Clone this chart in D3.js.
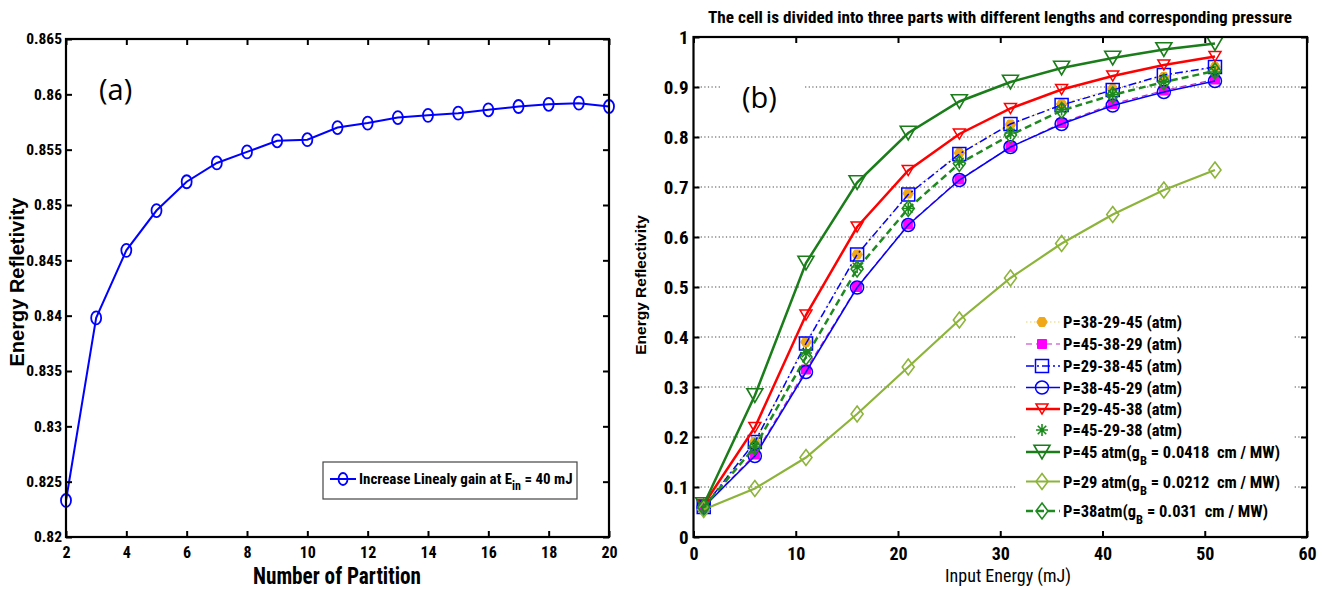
<!DOCTYPE html>
<html><head><meta charset="utf-8">
<script src="https://cdn.jsdelivr.net/npm/d3@7"></script>
<style>body{margin:0;background:#fff}svg{display:block}text{white-space:pre}</style>
</head><body><svg id="c" width="1322" height="590"></svg>
<script>
// ---------- Panel (a) data ----------
const partitions = [2,3,4,5,6,7,8,9,10,11,12,13,14,15,16,17,18,19,20];
const reflectA = [0.8233,0.8398,0.8459,0.8495,0.8521,0.8538,0.8548,0.8558,0.8559,0.8570,0.8574,0.8579,0.8581,0.8583,0.8586,0.8589,0.8591,0.8592,0.8589];
const xTicksA = [2,4,6,8,10,12,14,16,18,20];
const yTicksA = [0.82,0.825,0.83,0.835,0.84,0.845,0.85,0.855,0.86,0.865];
const yTickLabelsA = ["0.82","0.825","0.83","0.835","0.84","0.845","0.85","0.855","0.86","0.865"];

// ---------- Panel (b) data ----------
const inputEnergy = [1,6,11,16,21,26,31,36,41,46,51];
const p38_29_45 = [0.065,0.190,0.390,0.565,0.687,0.768,0.825,0.866,0.896,0.920,0.940];
const p45_38_29 = [0.060,0.165,0.335,0.500,0.625,0.715,0.780,0.828,0.866,0.893,0.915];
const p29_38_45 = [0.060,0.190,0.387,0.565,0.685,0.766,0.826,0.864,0.894,0.924,0.940];
const p38_45_29 = [0.060,0.162,0.330,0.499,0.624,0.714,0.780,0.826,0.863,0.890,0.912];
const p29_45_38 = [0.065,0.219,0.444,0.620,0.733,0.806,0.857,0.895,0.922,0.944,0.961];
const p45_29_38 = [0.060,0.180,0.368,0.540,0.657,0.750,0.808,0.855,0.885,0.910,0.930];
const p45 = [0.065,0.283,0.548,0.709,0.808,0.871,0.910,0.938,0.958,0.975,0.987];
const p29 = [0.055,0.097,0.159,0.246,0.340,0.434,0.518,0.587,0.645,0.694,0.734];
const p38 = [0.060,0.180,0.360,0.536,0.657,0.747,0.804,0.853,0.884,0.910,0.932];
const xTicksB = [0,10,20,30,40,50,60];
const yTicksB = [0,0.1,0.2,0.3,0.4,0.5,0.6,0.7,0.8,0.9,1];
const yTickLabelsB = ["0","0.1","0.2","0.3","0.4","0.5","0.6","0.7","0.8","0.9","1"];
const gridValsB = [0.1,0.2,0.3,0.4,0.5,0.6,0.7,0.8,0.9];

const NARROW = "'Liberation Sans Narrow','Arial Narrow','Roboto Condensed',sans-serif";
const SANS = "'Liberation Sans',Arial,sans-serif";
const svg = d3.select("#c");

// custom symbols
const symHex = {draw(ctx,size){const r=Math.sqrt(size*2/(3*Math.sqrt(3)));for(let i=0;i<6;i++){const a=Math.PI/3*i;const px=r*Math.cos(a),py=r*Math.sin(a);i?ctx.lineTo(px,py):ctx.moveTo(px,py);}ctx.closePath();}};
const symDiam = (w,h)=>({draw(ctx){ctx.moveTo(0,-h/2);ctx.lineTo(w/2,0);ctx.lineTo(0,h/2);ctx.lineTo(-w/2,0);ctx.closePath();}});
const symDown = (w)=>({draw(ctx){const h=w*0.85;ctx.moveTo(-w/2,-h/2);ctx.lineTo(w/2,-h/2);ctx.lineTo(0,h/2);ctx.closePath();}});
const symSq = (w)=>({draw(ctx){ctx.rect(-w/2,-w/2,w,w);}});
const symStar = (r)=>({draw(ctx){for(let i=0;i<4;i++){const a=Math.PI/4*i;ctx.moveTo(-r*Math.cos(a),-r*Math.sin(a));ctx.lineTo(r*Math.cos(a),r*Math.sin(a));}}});

function boxAxes(g, x, y, xt, yt, ytl, opt){
  const [x0,x1]=x.range(), [y0,y1]=y.range();
  const bottom = g.append("g").attr("transform",`translate(0,${y0})`)
    .call(d3.axisBottom(x).tickValues(xt).tickSizeInner(-6).tickSizeOuter(0).tickPadding(opt.xpad).tickFormat(d3.format("d")));
  const left = g.append("g").attr("transform",`translate(${x0},0)`)
    .call(d3.axisLeft(y).tickValues(yt).tickSizeInner(-6).tickSizeOuter(0).tickPadding(opt.ypad).tickFormat((d,i)=>ytl[i]));
  const top = g.append("g").attr("transform",`translate(0,${y1})`)
    .call(d3.axisTop(x).tickValues(xt).tickSizeInner(-6).tickSizeOuter(0).tickFormat(""));
  const right = g.append("g").attr("transform",`translate(${x1},0)`)
    .call(d3.axisRight(y).tickValues(yt).tickSizeInner(-6).tickSizeOuter(0).tickFormat(""));
  [bottom,left,top,right].forEach(a=>{a.select(".domain").remove();a.selectAll("line").attr("stroke","#000").attr("stroke-width",2);});
  bottom.selectAll("text").attr("font-family",NARROW).attr("font-weight","bold").attr("font-size",opt.xfs).attr("fill","#000");
  left.selectAll("text").attr("font-family",NARROW).attr("font-weight","bold").attr("font-size",opt.yfs).attr("fill","#000");
  g.append("rect").attr("x",x0).attr("y",y1).attr("width",x1-x0).attr("height",y0-y1)
    .attr("fill","none").attr("stroke","#000").attr("stroke-width",2.2);
}

// ================= Panel (a) =================
const xA = d3.scaleLinear().domain([2,20]).range([66,609]);
const yA = d3.scaleLinear().domain([0.82,0.865]).range([537,39]);
const gA = svg.append("g");

gA.append("path").datum(partitions.map((p,i)=>[p,reflectA[i]]))
  .attr("d",d3.line().x(d=>xA(d[0])).y(d=>yA(d[1])))
  .attr("fill","none").attr("stroke","#0000ff").attr("stroke-width",2);
gA.selectAll("ellipse.m").data(partitions.map((p,i)=>[p,reflectA[i]])).join("ellipse")
  .attr("cx",d=>xA(d[0])).attr("cy",d=>yA(d[1])).attr("rx",5).attr("ry",6.5)
  .attr("fill","none").attr("stroke","#0000ff").attr("stroke-width",1.8);

boxAxes(gA,xA,yA,xTicksA,yTicksA,yTickLabelsA,{xpad:10,ypad:4,xfs:16,yfs:15.5});

gA.append("text").attr("x",99).attr("y",100).attr("font-family","'Open Sans',Calibri,sans-serif")
  .attr("font-size",29).text("(a)");

// legend (a)
const lgA = gA.append("g");
lgA.append("rect").attr("x",323).attr("y",462).attr("width",254).attr("height",37)
  .attr("fill","#fff").attr("stroke","#444").attr("stroke-width",1.2);
lgA.append("line").attr("x1",330).attr("x2",356).attr("y1",479).attr("y2",479).attr("stroke","#0000ff").attr("stroke-width",2);
lgA.append("ellipse").attr("cx",343).attr("cy",479).attr("rx",4.5).attr("ry",6).attr("fill","none").attr("stroke","#0000ff").attr("stroke-width",1.8);
const tA = lgA.append("text").attr("x",359).attr("y",484).attr("font-family",NARROW).attr("font-size",15).attr("font-weight","bold");
tA.append("tspan").text("Increase Linealy gain at E");
tA.append("tspan").attr("dy",6).attr("font-size",12).text("in");
tA.append("tspan").attr("dy",-6).text(" = 40 mJ");

gA.append("text").attr("transform","translate(24,282) rotate(-90)").attr("text-anchor","middle")
  .attr("font-family",SANS).attr("font-weight","bold").attr("font-size",20).text("Energy Refletivity");
gA.append("text").attr("x",337).attr("y",584).attr("text-anchor","middle")
  .attr("font-family",NARROW).attr("font-weight","bold").attr("font-size",23)
  .attr("textLength",168).attr("lengthAdjust","spacingAndGlyphs").text("Number of Partition");

// ================= Panel (b) =================
const xB = d3.scaleLinear().domain([0,60]).range([693.5,1307]);
const yB = d3.scaleLinear().domain([0,1]).range([537,37]);
const gB = svg.append("g");

// grid
gB.selectAll("line.grid").data(gridValsB).join("line")
  .attr("x1",xB(0)).attr("x2",xB(60)).attr("y1",d=>yB(d)).attr("y2",d=>yB(d))
  .attr("stroke","#444").attr("stroke-width",1.1).attr("stroke-dasharray","1.2,2.4");

const series = [
  {name:"P=38-29-45 (atm)", v:p38_29_45, line:"#e8d470", lw:1.2, dash:"1.5,2.5", sym:symHex, size:70, fill:"#f0a818", stroke:"#f0a818", sw:1},
  {name:"P=45-38-29 (atm)", v:p45_38_29, line:"#c030c8", lw:1.2, dash:"6,4", sym:symSq(9), fill:"#ff00ff", stroke:"#ff00ff", sw:1},
  {name:"P=29-38-45 (atm)", v:p29_38_45, line:"#0000ff", lw:1.5, dash:"8,3,2,3", sym:symSq(13), fill:"none", stroke:"#0000ff", sw:1.5},
  {name:"P=38-45-29 (atm)", v:p38_45_29, line:"#0000ff", lw:1.5, dash:null, sym:d3.symbolCircle, size:Math.PI*6.5*6.5, fill:"none", stroke:"#0000ff", sw:1.5},
  {name:"P=29-45-38 (atm)", v:p29_45_38, line:"#ff0000", lw:2.5, dash:null, sym:symDown(12), fill:"none", stroke:"#ff0000", sw:1.5},
  {name:"P=45-29-38 (atm)", v:p45_29_38, line:null, sym:symStar(6), fill:"none", stroke:"#1a8a1a", sw:1.6},
  {name:"P=45 atm(g", sub:"B", tail:" = 0.0418  cm / MW)", v:p45, line:"#1a7d1a", lw:2.5, dash:null, sym:symDown(16), fill:"none", stroke:"#1a7d1a", sw:1.6},
  {name:"P=29 atm(g", sub:"B", tail:" = 0.0212  cm / MW)", v:p29, line:"#8db43a", lw:2.2, dash:null, sym:symDiam(12,16), fill:"none", stroke:"#8db43a", sw:1.6},
  {name:"P=38atm(g", sub:"B", tail:" = 0.031  cm / MW)", v:p38, line:"#1f8a1f", lw:2.5, dash:"7,4", sym:symDiam(12,16), fill:"none", stroke:"#1f8a1f", sw:1.6}
];
const lineGen = d3.line().x(d=>xB(d[0])).y(d=>yB(d[1]));
series.forEach(s=>{
  const pts = inputEnergy.map((e,i)=>[e,s.v[i]]);
  const g = gB.append("g");
  if(s.line){
    g.append("path").datum(pts).attr("d",lineGen).attr("fill","none")
      .attr("stroke",s.line).attr("stroke-width",s.lw).attr("stroke-dasharray",s.dash);
  }
  g.selectAll("path.m").data(pts).join("path").attr("class","m")
    .attr("transform",d=>`translate(${xB(d[0])},${yB(d[1])})`)
    .attr("d",d3.symbol(s.sym,s.size||64))
    .attr("fill",s.fill).attr("stroke",s.stroke).attr("stroke-width",s.sw);
});

// (b) label with white background
gB.append("rect").attr("x",721).attr("y",70).attr("width",82).attr("height",48).attr("fill","#fff");
gB.append("text").attr("x",742).attr("y",108).attr("font-family","'Open Sans',Calibri,sans-serif")
  .attr("font-size",29).text("(b)");

// legend (b)
const lgB = gB.append("g");
lgB.append("rect").attr("x",1017).attr("y",302).attr("width",276).attr("height",232).attr("fill","#fff");
const rowY = [322,344,366,387.5,409,430,452,481.5,511];
series.forEach((s,i)=>{
  const y = rowY[i];
  if(s.line){
    lgB.append("line").attr("x1",1026).attr("x2",1060).attr("y1",y).attr("y2",y)
      .attr("stroke",s.line).attr("stroke-width",s.lw).attr("stroke-dasharray",s.dash);
  }
  lgB.append("path").attr("transform",`translate(1042,${y})`).attr("d",d3.symbol(s.sym,s.size||64))
    .attr("fill",s.fill).attr("stroke",s.stroke).attr("stroke-width",s.sw);
  const t = lgB.append("text").attr("x",1063).attr("y",y+6).attr("font-family",NARROW)
    .attr("font-weight","bold").attr("font-size",16.5).attr("fill","#000");
  t.append("tspan").text(s.name);
  if(s.sub){
    t.append("tspan").attr("dy",7).attr("font-size",12.5).text(s.sub);
    t.append("tspan").attr("dy",-7).text(s.tail);
  }
});

boxAxes(gB,xB,yB,xTicksB,yTicksB,yTickLabelsB,{xpad:10,ypad:5,xfs:18,yfs:19});

gB.append("text").attr("x",1000).attr("y",23).attr("text-anchor","middle")
  .attr("font-family",NARROW).attr("font-weight","bold").attr("font-size",17)
  .attr("textLength",584).attr("lengthAdjust","spacingAndGlyphs")
  .text("The cell is divided into three parts with different lengths and corresponding pressure");
gB.append("text").attr("transform","translate(646,285) rotate(-90)").attr("text-anchor","middle")
  .attr("font-family",SANS).attr("font-weight","bold").attr("font-size",15.5).text("Energy Reflectivity");
gB.append("text").attr("x",1008).attr("y",582).attr("text-anchor","middle")
  .attr("font-family",NARROW).attr("font-size",18).text("Input Energy (mJ)");
</script></body></html>
